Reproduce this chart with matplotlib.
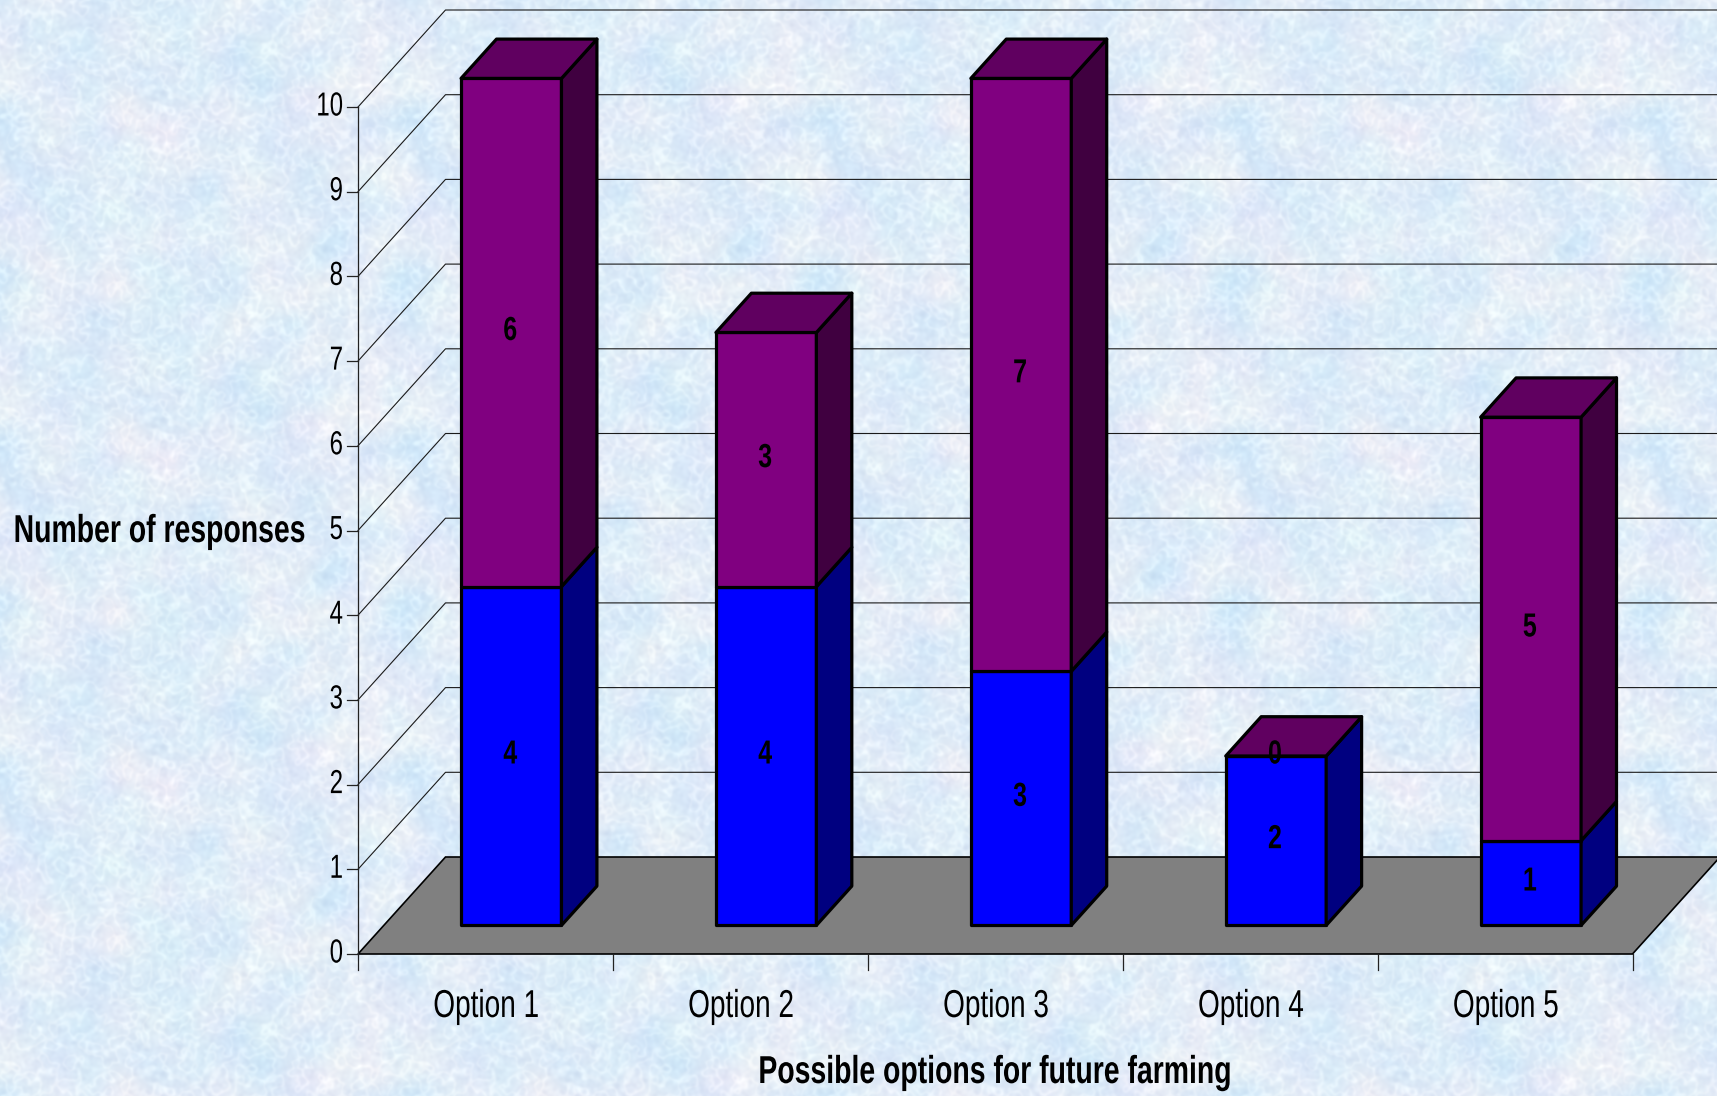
import matplotlib
matplotlib.use("Agg")
import matplotlib.pyplot as plt
from matplotlib.patches import Polygon
from matplotlib.patheffects import AbstractPathEffect
from matplotlib.text import Text
from matplotlib.transforms import Affine2D, Bbox
import numpy as np

options = ["Option 1", "Option 2", "Option 3", "Option 4", "Option 5"]
lower_values = [4, 4, 3, 2, 1]
upper_values = [6, 3, 7, 0, 5]
y_ticks = [0, 1, 2, 3, 4, 5, 6, 7, 8, 9, 10]

FONT = ["Liberation Sans", "DejaVu Sans"]

W, H = 1717, 1096
X0, Y0 = 358.0, 954.0     # pixel position of the axes origin
CAT_W, UNIT_H = 254.9, 84.7
# depth of the 3D box, in category widths and value units
DEPTH_X = 87.5 / CAT_W
DEPTH_Y = 97.0 / UNIT_H
BAR_W = 0.394
BAR_FRONT, BAR_BACK = 0.295, 0.70


class Squeeze(AbstractPathEffect):
    # narrows the glyph outlines horizontally around the anchor pixel
    def __init__(self, sx, cx):
        super().__init__()
        self.sx = sx
        self.cx = cx

    def draw_path(self, renderer, gc, tpath, affine, rgbFace=None):
        squeeze = Affine2D().translate(-self.cx, 0).scale(self.sx, 1).translate(self.cx, 0)
        renderer.draw_path(gc, tpath, affine + squeeze, rgbFace)


class NarrowText(Text):
    # condensed text, the installed fonts have no narrow enough face
    def __init__(self, x, y, text, sx=0.72, **kwargs):
        super().__init__(x, y, text, **kwargs)
        self.sx = sx

    def anchor_px(self):
        return self.get_transform().transform(self.get_position())[0]

    def draw(self, renderer):
        self.set_path_effects([Squeeze(self.sx, self.anchor_px())])
        super().draw(renderer)

    def get_window_extent(self, renderer=None, dpi=None):
        box = super().get_window_extent(renderer, dpi)
        cx = self.anchor_px()
        return Bbox([[cx + (box.x0 - cx) * self.sx, box.y0], [cx + (box.x1 - cx) * self.sx, box.y1]])


def project(x, y, depth=0.0):
    return x + depth * DEPTH_X, y + depth * DEPTH_Y


def background_texture(h, w):
    # pale blue vermiculated paper, repeated as a tile
    rng = np.random.default_rng(11)
    tile_h, tile_w = 327, 414
    fy = np.fft.fftfreq(tile_h)[:, None]
    fx = np.fft.fftfreq(tile_w)[None, :]
    r2 = fx ** 2 + fy ** 2

    def smooth(a, sigma):
        return np.fft.ifft2(np.fft.fft2(a) * np.exp(-2 * (np.pi * sigma) ** 2 * r2)).real

    def blurred(sigma):
        out = smooth(rng.standard_normal((tile_h, tile_w)), sigma)
        return out / out.std()

    speck = blurred(1.5)
    band = blurred(2.8) - 0.6 * blurred(6)
    worms = np.exp(-(band / 0.45) ** 2)
    blue = blurred(13)
    pink = blurred(12)

    red = 221 + 14 * worms + 3 * speck - 5 * blue + 1.5 * pink
    green = 234 + 11 * worms + 3 * speck - 2 * blue - 1 * pink
    cyan = 247 + 6 * worms + 2 * speck + 0.5 * blue
    tile = np.dstack([smooth(red, 0.9), smooth(green, 0.9), smooth(cyan, 0.9)])

    reps = (h // tile_h + 1, w // tile_w + 1, 1)
    return np.clip(np.tile(tile, reps)[:h, :w], 0, 255).astype(np.uint8)


def box(ax, center, bottom, height, front, side, top, draw_top):
    left, right = center - BAR_W / 2, center + BAR_W / 2
    high = bottom + height
    faces = [
        ([(left, bottom, BAR_FRONT), (right, bottom, BAR_FRONT),
          (right, high, BAR_FRONT), (left, high, BAR_FRONT)], front),
        ([(right, bottom, BAR_FRONT), (right, bottom, BAR_BACK),
          (right, high, BAR_BACK), (right, high, BAR_FRONT)], side),
    ]
    if draw_top:
        faces.append(([(left, high, BAR_FRONT), (right, high, BAR_FRONT),
                       (right, high, BAR_BACK), (left, high, BAR_BACK)], top))
    for corners, color in faces:
        ax.add_patch(Polygon([project(*c) for c in corners], closed=True, facecolor=color,
                             edgecolor="black", linewidth=2.3, joinstyle="round", zorder=5))


def label(ax, x, y, text, **kwargs):
    t = NarrowText(x, y, text, transform=ax.transData, family=FONT, color="black", **kwargs)
    t.set_clip_on(False)
    ax.add_artist(t)
    return t


fig = plt.figure(figsize=(W / 100, H / 100), dpi=100)
ax = fig.add_axes([0, 0, 1, 1])
ax.set_xlim(-X0 / CAT_W, (W - X0) / CAT_W)
ax.set_ylim((Y0 - H) / UNIT_H, Y0 / UNIT_H)
ax.axis("off")
ax.imshow(background_texture(H, W), extent=[*ax.get_xlim(), *ax.get_ylim()],
          aspect="auto", origin="upper", zorder=0, interpolation="bilinear")

# floor
n = len(options)
floor = [project(0, 0), project(n, 0), project(n, 0, 1), project(0, 0, 1)]
ax.add_patch(Polygon(floor, closed=True, facecolor="#808080", edgecolor="black",
                     linewidth=1.2, zorder=2))

# gridlines run along the side wall then across the back wall
right_edge = ax.get_xlim()[1] + 0.1
for t in y_ticks[1:]:
    sx, sy = project(0, t)
    bx, by = project(0, t, 1)
    ax.plot([sx, bx, right_edge], [sy, by, by], color="#1a1a1a", lw=0.8, zorder=1)

# axes and tick marks
ax.plot([0, 0], [0, y_ticks[-1]], color="#222222", lw=0.9, zorder=3)
for t in y_ticks:
    ax.plot([-11 / CAT_W, 0], [t, t], color="#222222", lw=0.9, zorder=3)
    label(ax, -15 / CAT_W, t, str(t), ha="right", va="center", fontsize=24, zorder=6)
for i in range(n + 1):
    ax.plot([i, i], [0, -16 / UNIT_H], color="#222222", lw=0.9, zorder=3)
for i, name in enumerate(options):
    label(ax, i + 0.503, -63 / UNIT_H, name, ha="center", va="baseline", fontsize=28, zorder=6)

# stacked boxes, drawn lower segment first
for i in range(n):
    c = i + 0.5
    box(ax, c, 0, lower_values[i], "#0000ff", "#000080", "#000080", False)
    box(ax, c, lower_values[i], upper_values[i], "#800080", "#400040", "#600060", True)

    fx, fy = project(c, lower_values[i] / 2, BAR_FRONT)
    label(ax, fx - 1 / CAT_W, fy + 1 / UNIT_H, str(lower_values[i]), ha="center", va="center",
          fontsize=24, fontweight="bold", sx=0.75, zorder=7)
    fx, fy = project(c, lower_values[i] + upper_values[i] / 2, BAR_FRONT)
    label(ax, fx - 1 / CAT_W, fy + 1 / UNIT_H, str(upper_values[i]), ha="center", va="center",
          fontsize=24, fontweight="bold", sx=0.75, zorder=7)

label(ax, (159.5 - X0) / CAT_W, (Y0 - 542) / UNIT_H, "Number of responses", ha="center", va="baseline",
      fontsize=28, fontweight="bold", sx=0.73, zorder=6)
label(ax, (995 - X0) / CAT_W, (Y0 - 1083) / UNIT_H, "Possible options for future farming",
      ha="center", va="baseline", fontsize=28, fontweight="bold", sx=0.73, zorder=6)

fig.savefig("out.png", dpi=100)
